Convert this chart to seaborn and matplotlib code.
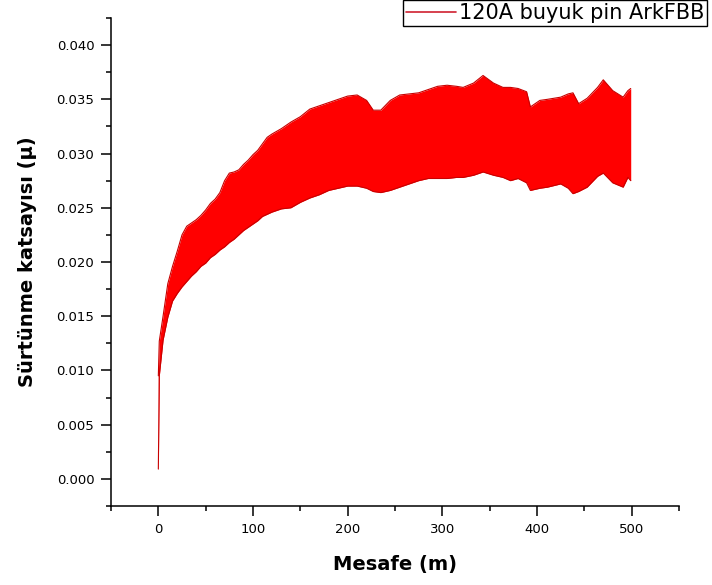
import matplotlib
matplotlib.use("Agg")
import matplotlib.pyplot as plt
from matplotlib.ticker import MultipleLocator, FormatStrFormatter
import seaborn as sns

# friction coefficient band (upper / lower envelope of the trace)
mesafe = [0, 1, 5, 10, 15, 20, 25, 30, 35, 40, 45, 50, 55, 60, 65, 70, 75, 80,
          85, 90, 95, 100, 105, 110, 115, 120, 130, 140, 150, 160, 170, 180,
          190, 200, 210, 220, 227, 235, 245, 255, 265, 275, 285, 295, 305, 315,
          322, 333, 343, 354, 364, 372, 380, 389, 393, 403, 411, 425, 433, 438,
          444, 453, 464, 470, 480, 491, 496, 499]
ust = [0.0095, 0.0127, 0.0150, 0.0180, 0.0196, 0.0210, 0.0225, 0.0233, 0.0236,
       0.0239, 0.0243, 0.0248, 0.0254, 0.0258, 0.0264, 0.0275, 0.0282, 0.0283,
       0.0285, 0.0290, 0.0294, 0.0299, 0.0303, 0.0309, 0.0315, 0.0318, 0.0323,
       0.0329, 0.0334, 0.0341, 0.0344, 0.0347, 0.0350, 0.0353, 0.0354, 0.0349,
       0.0340, 0.0340, 0.0349, 0.0354, 0.0355, 0.0356, 0.0359, 0.0362, 0.0363,
       0.0362, 0.0361, 0.0365, 0.0372, 0.0365, 0.0361, 0.0361, 0.0360, 0.0357,
       0.0343, 0.0349, 0.0350, 0.0352, 0.0355, 0.0356, 0.0346, 0.0351, 0.0361,
       0.0368, 0.0358, 0.0352, 0.0358, 0.0360]
alt = [0.0009, 0.0095, 0.0128, 0.0149, 0.0164, 0.0171, 0.0177, 0.0182, 0.0187,
       0.0191, 0.0196, 0.0199, 0.0204, 0.0207, 0.0211, 0.0214, 0.0218, 0.0221,
       0.0225, 0.0229, 0.0232, 0.0235, 0.0238, 0.0242, 0.0244, 0.0246, 0.0249,
       0.0250, 0.0255, 0.0259, 0.0262, 0.0266, 0.0268, 0.0270, 0.0270, 0.0268,
       0.0265, 0.0264, 0.0266, 0.0269, 0.0272, 0.0275, 0.0277, 0.0277, 0.0277,
       0.0278, 0.0278, 0.0280, 0.0283, 0.0280, 0.0278, 0.0275, 0.0277, 0.0273,
       0.0266, 0.0268, 0.0269, 0.0272, 0.0268, 0.0263, 0.0265, 0.0269, 0.0279,
       0.0282, 0.0273, 0.0269, 0.0278, 0.0275]
etiket = "120A buyuk pin ArkFBB"

sns.set_style("ticks")
plt.rcParams["font.family"] = ["DejaVu Sans"]
plt.rcParams["text.color"] = "black"
plt.rcParams["axes.labelcolor"] = "black"

fig = plt.figure(figsize=(7.12, 5.85), dpi=100)
ax = fig.add_axes([111 / 712, 79 / 585, 568 / 712, 488 / 585])

# the band itself
ax.fill_between(mesafe, alt, ust, color="#ff0000", lw=0)
sns.lineplot(x=mesafe, y=ust, ax=ax, color="#c80000", lw=0.8, sort=False,
             label=etiket)
sns.lineplot(x=mesafe, y=alt, ax=ax, color="#c80000", lw=0.8, sort=False,
             legend=False)

ax.set_xlim(-50, 550)
ax.set_ylim(-0.0025, 0.0425)
ax.xaxis.set_major_locator(MultipleLocator(100))
ax.xaxis.set_minor_locator(MultipleLocator(50))
ax.yaxis.set_major_locator(MultipleLocator(0.005))
ax.yaxis.set_minor_locator(MultipleLocator(0.0025))
ax.yaxis.set_major_formatter(FormatStrFormatter("%.3f"))

ax.tick_params(which="major", direction="out", length=7, width=1.1,
               labelsize=9.5, pad=5, colors="black")
ax.tick_params(which="minor", direction="out", length=3.5, width=1.1,
               colors="black")
for s in ["left", "bottom"]:
    ax.spines[s].set_linewidth(1.1)
    ax.spines[s].set_color("black")
sns.despine(ax=ax)

ax.set_xlabel("Mesafe (m)", fontsize=14, fontweight="bold")
ax.set_ylabel("Sürtünme katsayısı (µ)", fontsize=14, fontweight="bold")
ax.xaxis.set_label_coords(0.5, -0.100)
ax.yaxis.set_label_coords(-0.130, 0.5)

leg = ax.legend(loc="upper left", bbox_to_anchor=(402.7 / 712, 1.0),
                bbox_transform=fig.transFigure, borderaxespad=0,
                fontsize=15, frameon=True, fancybox=False, framealpha=1,
                edgecolor="black", borderpad=0.15, handlelength=2.4,
                handletextpad=0.15)
leg.get_frame().set_linewidth(1.0)
for line in leg.get_lines():
    line.set_linewidth(1.2)
    line.set_color("#d02030")

fig.savefig("out.png", dpi=100)
